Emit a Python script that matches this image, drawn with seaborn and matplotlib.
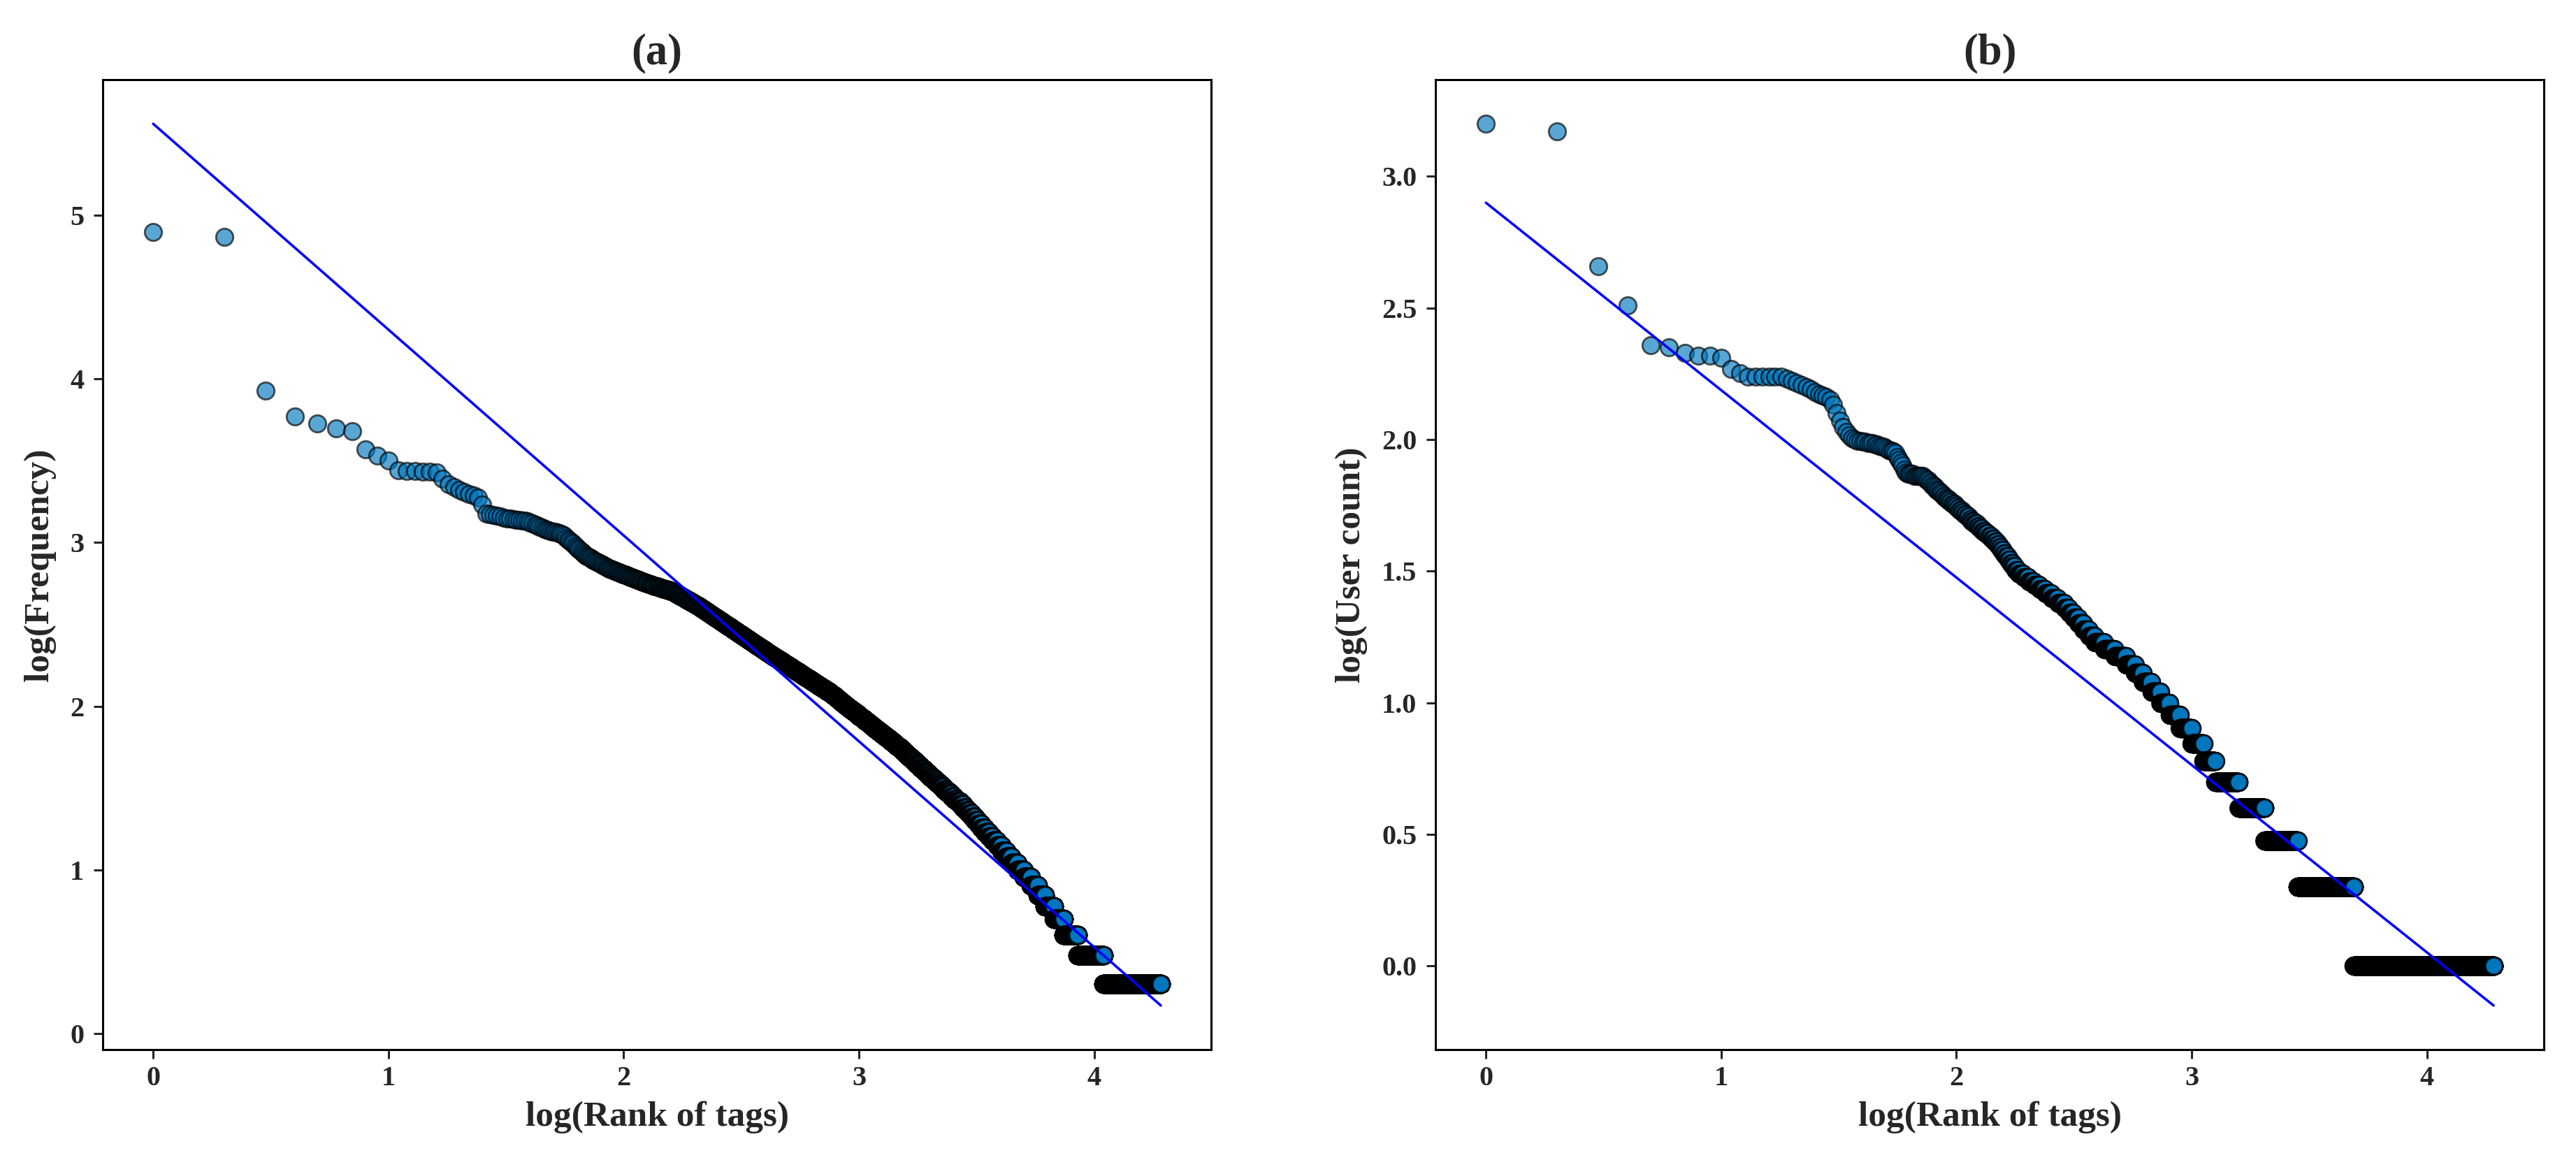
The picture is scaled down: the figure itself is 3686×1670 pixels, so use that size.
import numpy as np
import pandas as pd
import matplotlib
matplotlib.use("Agg")
import matplotlib.pyplot as plt
import seaborn as sns

# Data

N_TAGS = 19200

# log10 value of the ten top-ranked tags
TOP_FREQ_LOG = [4.90, 4.87, 3.93, 3.77, 3.73, 3.70, 3.68, 3.57, 3.53, 3.50]
TOP_USER_LOG = [3.20, 3.17, 2.66, 2.51, 2.36, 2.35, 2.33, 2.32, 2.32, 2.31]

# points read along the rest of each curve: log(rank) -> log(value)
FREQ_CURVE_X = [1.04, 1.21, 1.24, 1.29, 1.39, 1.41, 1.50, 1.59, 1.67, 1.74,
                1.84, 1.94, 2.10, 2.21, 2.32, 2.60, 2.88, 3.17, 3.45, 3.60,
                3.73, 3.76, 3.79, 3.83, 3.87, 3.93, 4.04, 4.29]
FREQ_CURVE_Y = [3.44, 3.43, 3.37, 3.33, 3.27, 3.18, 3.15, 3.13, 3.08, 3.05,
                2.92, 2.84, 2.75, 2.70, 2.61, 2.34, 2.08, 1.75, 1.38, 1.14,
                0.929, 0.875, 0.813, 0.740, 0.653, 0.544, 0.398, 0.25]

USER_CURVE_X = [1.04, 1.11, 1.25, 1.31, 1.38, 1.47, 1.50, 1.53, 1.56, 1.67,
                1.74, 1.79, 1.86, 1.93, 2.02, 2.17, 2.26, 2.46, 2.59, 2.74,
                2.85, 2.95, 3.00, 3.05, 3.10, 3.20, 3.31, 3.45, 3.69, 4.29]
USER_CURVE_Y = [2.27, 2.24, 2.24, 2.22, 2.19, 2.15, 2.08, 2.03, 2.00, 1.98,
                1.95, 1.87, 1.86, 1.80, 1.73, 1.61, 1.50, 1.37, 1.24, 1.15,
                1.04, 0.929, 0.875, 0.813, 0.740, 0.653, 0.544, 0.398, 0.176, 0.0]

# fitted lines: value at log(rank)=0 and at the last rank
FIT_FREQ_Y = [5.56, 0.17]
FIT_USER_Y = [2.90, -0.15]

PANEL_TITLES = ["(a)", "(b)"]
Y_LABELS = ["log(Frequency)", "log(User count)"]
X_LABEL = "log(Rank of tags)"

POINT_COLOR = "#0077be"
LINE_COLOR = "blue"


def rank_table(top_log, curve_x, curve_y):
    rank = np.arange(1, N_TAGS + 1)
    log_rank = np.log10(rank)
    # counts are whole numbers, so round before taking the log again
    counts = np.round(10 ** np.interp(log_rank, curve_x, curve_y))
    log_val = np.log10(counts)
    log_val[:len(top_log)] = top_log
    return pd.DataFrame({"log_rank": log_rank, "log_val": log_val})


sns.set_style("ticks")
plt.rcParams["font.family"] = ["Liberation Serif", "DejaVu Serif"]
plt.rcParams["font.weight"] = "bold"
plt.rcParams["axes.labelweight"] = "bold"
plt.rcParams["axes.titleweight"] = "bold"

fig, axes = plt.subplots(1, 2, figsize=(18.435, 8.35), dpi=200)
fig.subplots_adjust(left=0.0399, right=0.9873, bottom=0.1006, top=0.9317,
                    wspace=0.2024)

tables = [
    rank_table(TOP_FREQ_LOG, FREQ_CURVE_X, FREQ_CURVE_Y),
    rank_table(TOP_USER_LOG, USER_CURVE_X, USER_CURVE_Y),
]
fits = [FIT_FREQ_Y, FIT_USER_Y]

for ax, df, fit, title, ylabel in zip(axes, tables, fits, PANEL_TITLES, Y_LABELS):
    sns.scatterplot(
        data=df, x="log_rank", y="log_val", ax=ax,
        color=POINT_COLOR, alpha=0.65, s=78,
        edgecolor="black", linewidth=1.0, legend=False
    )
    fit_x = [0.0, df["log_rank"].iloc[-1]]
    sns.lineplot(x=fit_x, y=fit, ax=ax, color=LINE_COLOR, linewidth=1.3)

    ax.set_title(title, fontsize=22.5, pad=8)
    ax.set_xlabel(X_LABEL, fontsize=18.5, labelpad=5)
    ax.set_ylabel(ylabel, fontsize=18.5, labelpad=7)
    ax.set_xticks([0, 1, 2, 3, 4])
    ax.tick_params(axis="both", labelsize=14.5, length=4.7, width=1.1)
    ax.tick_params(axis="y", pad=5)
    for spine in ax.spines.values():
        spine.set_linewidth(1.1)
        spine.set_color("black")

fig.savefig("out.png", dpi=200)
plt.close(fig)
